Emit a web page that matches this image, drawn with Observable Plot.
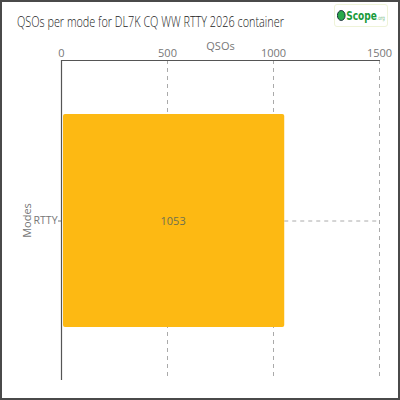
<!DOCTYPE html>
<html><head><meta charset="utf-8">
<script src="https://cdn.jsdelivr.net/npm/d3@7"></script>
<script src="https://cdn.jsdelivr.net/npm/@observablehq/plot@0.6"></script>
<style>
html,body{margin:0;padding:0;background:#fff;}
#wrap{position:relative;width:396px;height:396px;border:2px solid #4a4a4a;overflow:hidden;font-family:"Open Sans",sans-serif;}
#title{position:absolute;left:15px;top:10px;font-size:14px;font-weight:300;color:#222;white-space:nowrap;font-family:"Open Sans",sans-serif;transform-origin:0 50%;}
#logo{position:absolute;left:332px;top:2px;width:54px;height:23px;border:1px solid #eef3d8;border-radius:3px;box-sizing:border-box;overflow:hidden;}
#logoin{position:absolute;left:2px;top:0;white-space:nowrap;font-family:"DejaVu Sans Condensed","Liberation Sans",sans-serif;font-weight:bold;font-size:13px;color:#1a9a3a;line-height:21px;transform-origin:0 50%;}
#logoin .q{display:inline-block;width:9px;height:9px;border-radius:50%;background:#2aa84a;border:1.5px solid #123;vertical-align:-1px;margin-right:1px;}
#logoin small{font-size:6px;font-weight:normal;color:#7cc08a;}
#chart{position:absolute;left:-4px;top:36px;}
</style></head>
<body>
<div id="wrap">
<div id="title">QSOs per mode for DL7K CQ WW RTTY 2026 container</div>
<div id="logo"><div id="logoin"><span class="q"></span>Scope<small>.org</small></div></div>
<div id="chart"></div>
</div>
<script>
const modes = ["RTTY"];
const qsos = [1053];
const xTicks = [0, 500, 1000, 1500];
const data = modes.map((m, i) => ({mode: m, qsos: qsos[i]}));

// fit title and logo widths to the reference
const t = document.getElementById("title");
t.style.transform = `scaleX(${(267 / t.getBoundingClientRect().width).toFixed(3)})`;
const lg = document.getElementById("logoin");
lg.style.transform = `scaleX(${(48 / lg.getBoundingClientRect().width).toFixed(3)})`;

const plot = Plot.plot({
  width: 400,
  height: 362,
  marginTop: 22,
  marginLeft: 63,
  marginRight: 19,
  marginBottom: 20,
  style: {fontFamily: "Open Sans, sans-serif", fontSize: "11px", color: "#777", background: "transparent"},
  x: {domain: [0, 1500], axis: "top", ticks: xTicks, tickFormat: d => String(d), label: "QSOs", labelAnchor: "center", labelArrow: "none", labelOffset: 18, tickSize: 0, tickPadding: 4},
  y: {domain: modes, label: "Modes", labelAnchor: "center", labelArrow: "none", labelOffset: 38, padding: 0.2, tickSize: 3, tickPadding: 1, tickFormat: d => d},
  marks: [
    Plot.gridX(xTicks.slice(1), {stroke: "#aaa", strokeOpacity: 1, strokeDasharray: "4,4"}),
    Plot.ruleY(data, {y: "mode", x1: "qsos", x2: 1500, stroke: "#aaa", strokeDasharray: "4,4"}),
    Plot.barX(data, {x: "qsos", y: "mode", fill: "#fdb913", rx: 2, insetLeft: 2}),
    Plot.text(data, {x: d => d.qsos / 2, y: "mode", text: d => String(d.qsos), fill: "#6e7050", fontSize: 11}),
    Plot.ruleX([0], {stroke: "#555", strokeWidth: 1.2}),
    Plot.frame({anchor: "top", stroke: "#555"})
  ]
});
plot.querySelectorAll("[aria-label='y-axis tick label'] text").forEach(e => e.setAttribute("font-size", "10.5"));
document.getElementById("chart").appendChild(plot);
</script>
</body></html>
